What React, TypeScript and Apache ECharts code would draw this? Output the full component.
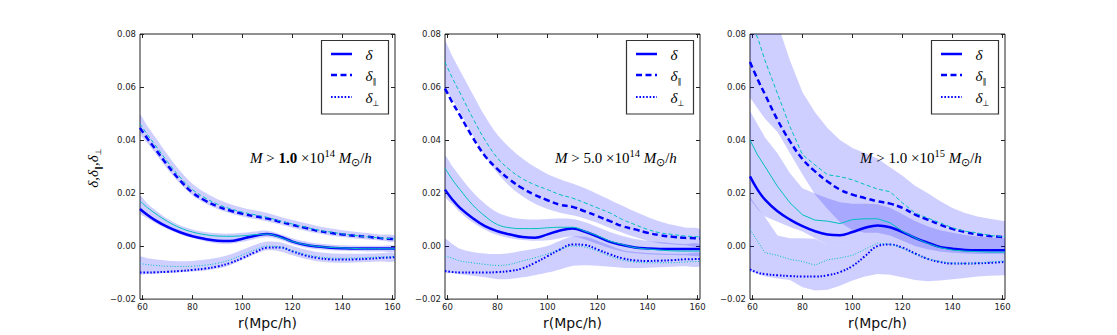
import React, { useEffect, useRef } from "react";
import * as echarts from "echarts";

// r (Mpc/h) sampling of every curve
const R = [59, 62, 65, 70, 75, 80, 85, 90, 95, 100, 105, 110, 115, 120, 125, 130, 135, 140, 145, 150, 155, 161];
const xTicks = [60, 80, 100, 120, 140, 160];
const yRange = [-0.02, 0.08];
const yStep = 0.02;

const massValues = ["1.0", "5.0", "1.0"];
const massExponents = ["14", "14", "15"];

// ---------- Panel 1: M > 1.0e14 ----------
const p1DeltaBlue = [0.0140, 0.0117, 0.0098, 0.0072, 0.0052, 0.0037, 0.0027, 0.0020, 0.0019, 0.0028, 0.0039, 0.0046, 0.0035, 0.0017, 0.0005, -0.0002, -0.0006, -0.0008, -0.0009, -0.0009, -0.0009, -0.0009];
const p1DeltaCyan = [0.0170, 0.0145, 0.0124, 0.0093, 0.0069, 0.0053, 0.0043, 0.0038, 0.0037, 0.0039, 0.0043, 0.0045, 0.0033, 0.0017, 0.0006, -0.0001, -0.0005, -0.0007, -0.0009, -0.0010, -0.0010, -0.0010];
const p1DeltaHi = [0.0188, 0.0160, 0.0137, 0.0103, 0.0079, 0.0063, 0.0053, 0.0048, 0.0047, 0.0050, 0.0055, 0.0058, 0.0046, 0.0030, 0.0018, 0.0010, 0.0006, 0.0003, 0.0002, 0.0001, 0.0001, 0.0001];
const p1DeltaLo = [0.0125, 0.0105, 0.0088, 0.0064, 0.0045, 0.0031, 0.0018, 0.0010, 0.0009, 0.0016, 0.0027, 0.0033, 0.0024, 0.0007, -0.0005, -0.0012, -0.0016, -0.0018, -0.0019, -0.0020, -0.0020, -0.0020];

const p1ParBlue = [0.0446, 0.0405, 0.0368, 0.0305, 0.0248, 0.0202, 0.0172, 0.0150, 0.0134, 0.0122, 0.0112, 0.0104, 0.0092, 0.0080, 0.0069, 0.0058, 0.0050, 0.0044, 0.0039, 0.0035, 0.0030, 0.0026];
const p1ParCyan = [0.0462, 0.0420, 0.0382, 0.0318, 0.0260, 0.0213, 0.0182, 0.0158, 0.0141, 0.0128, 0.0118, 0.0108, 0.0095, 0.0083, 0.0072, 0.0061, 0.0053, 0.0046, 0.0040, 0.0035, 0.0031, 0.0027];
const p1ParHi = [0.0494, 0.0452, 0.0412, 0.0345, 0.0284, 0.0235, 0.0202, 0.0177, 0.0159, 0.0145, 0.0135, 0.0125, 0.0111, 0.0098, 0.0087, 0.0076, 0.0067, 0.0060, 0.0054, 0.0049, 0.0044, 0.0040];
const p1ParLo = [0.0425, 0.0388, 0.0352, 0.0290, 0.0236, 0.0191, 0.0162, 0.0140, 0.0124, 0.0112, 0.0102, 0.0093, 0.0081, 0.0069, 0.0058, 0.0048, 0.0040, 0.0034, 0.0029, 0.0025, 0.0021, 0.0017];

const p1PerpBlue = [-0.0100, -0.0100, -0.0099, -0.0097, -0.0094, -0.0090, -0.0085, -0.0077, -0.0064, -0.0045, -0.0023, -0.0006, -0.0005, -0.0020, -0.0035, -0.0045, -0.0050, -0.0051, -0.0050, -0.0048, -0.0045, -0.0042];
const p1PerpCyan = [-0.0066, -0.0070, -0.0073, -0.0076, -0.0077, -0.0076, -0.0072, -0.0065, -0.0052, -0.0033, -0.0014, 0.0000, -0.0004, -0.0018, -0.0031, -0.0040, -0.0045, -0.0046, -0.0045, -0.0043, -0.0041, -0.0040];
const p1PerpHi = [-0.0042, -0.0046, -0.0050, -0.0055, -0.0057, -0.0056, -0.0051, -0.0044, -0.0032, -0.0014, 0.0005, 0.0017, 0.0014, 0.0000, -0.0013, -0.0022, -0.0027, -0.0029, -0.0029, -0.0028, -0.0027, -0.0026];
const p1PerpLo = [-0.0104, -0.0105, -0.0104, -0.0102, -0.0099, -0.0096, -0.0092, -0.0085, -0.0072, -0.0052, -0.0031, -0.0016, -0.0020, -0.0035, -0.0048, -0.0057, -0.0062, -0.0063, -0.0062, -0.0060, -0.0058, -0.0056];

// ---------- Panel 2: M > 5.0e14 ----------
const p2DeltaBlue = [0.0213, 0.0175, 0.0144, 0.0106, 0.0075, 0.0056, 0.0044, 0.0034, 0.0031, 0.0044, 0.0059, 0.0066, 0.0054, 0.0036, 0.0016, 0.0004, -0.0005, -0.0009, -0.0011, -0.0011, -0.0011, -0.0011];
const p2DeltaCyan = [0.0294, 0.0250, 0.0213, 0.0156, 0.0113, 0.0081, 0.0069, 0.0066, 0.0066, 0.0069, 0.0071, 0.0071, 0.0056, 0.0039, 0.0019, 0.0006, -0.0006, -0.0011, -0.0015, -0.0018, -0.0019, -0.0019];
const p2DeltaHi = [0.0338, 0.0300, 0.0262, 0.0205, 0.0160, 0.0127, 0.0110, 0.0102, 0.0100, 0.0102, 0.0104, 0.0102, 0.0090, 0.0072, 0.0053, 0.0038, 0.0027, 0.0020, 0.0015, 0.0011, 0.0008, 0.0006];
const p2DeltaLo = [0.0190, 0.0158, 0.0128, 0.0090, 0.0062, 0.0042, 0.0030, 0.0023, 0.0020, 0.0022, 0.0030, 0.0036, 0.0025, 0.0008, -0.0008, -0.0020, -0.0027, -0.0031, -0.0033, -0.0034, -0.0035, -0.0035];

const p2ParBlue = [0.0594, 0.0541, 0.0493, 0.0411, 0.0340, 0.0290, 0.0250, 0.0218, 0.0193, 0.0173, 0.0156, 0.0148, 0.0131, 0.0113, 0.0094, 0.0075, 0.0063, 0.0050, 0.0041, 0.0035, 0.0031, 0.0029];
const p2ParCyan = [0.0694, 0.0633, 0.0578, 0.0485, 0.0400, 0.0332, 0.0287, 0.0254, 0.0231, 0.0213, 0.0194, 0.0181, 0.0163, 0.0144, 0.0125, 0.0100, 0.0081, 0.0063, 0.0050, 0.0044, 0.0038, 0.0035];
const p2ParHi = [0.0769, 0.0715, 0.0662, 0.0575, 0.0490, 0.0420, 0.0370, 0.0330, 0.0298, 0.0272, 0.0252, 0.0236, 0.0218, 0.0196, 0.0174, 0.0152, 0.0130, 0.0110, 0.0093, 0.0080, 0.0070, 0.0062];
const p2ParLo = [0.0600, 0.0552, 0.0505, 0.0420, 0.0340, 0.0275, 0.0225, 0.0188, 0.0160, 0.0140, 0.0126, 0.0116, 0.0103, 0.0087, 0.0068, 0.0050, 0.0034, 0.0020, 0.0011, 0.0006, 0.0003, 0.0001];

const p2PerpBlue = [-0.0094, -0.0098, -0.0100, -0.0100, -0.0100, -0.0098, -0.0094, -0.0084, -0.0063, -0.0038, -0.0013, 0.0006, 0.0004, -0.0013, -0.0031, -0.0046, -0.0054, -0.0056, -0.0055, -0.0053, -0.0050, -0.0049];
const p2PerpCyan = [-0.0038, -0.0046, -0.0056, -0.0063, -0.0069, -0.0073, -0.0069, -0.0056, -0.0044, -0.0029, -0.0013, 0.0000, -0.0004, -0.0019, -0.0038, -0.0053, -0.0060, -0.0063, -0.0063, -0.0063, -0.0060, -0.0058];
const p2PerpHi = [0.0025, 0.0008, -0.0010, -0.0022, -0.0028, -0.0030, -0.0026, -0.0018, -0.0010, 0.0000, 0.0020, 0.0036, 0.0035, 0.0020, 0.0002, -0.0015, -0.0022, -0.0026, -0.0028, -0.0029, -0.0029, -0.0028];
const p2PerpLo = [-0.0098, -0.0102, -0.0106, -0.0112, -0.0118, -0.0125, -0.0124, -0.0118, -0.0110, -0.0100, -0.0088, -0.0075, -0.0072, -0.0074, -0.0078, -0.0082, -0.0083, -0.0082, -0.0080, -0.0078, -0.0076, -0.0075];

// ---------- Panel 3: M > 1.0e15 ----------
const p3DeltaBlue = [0.0263, 0.0213, 0.0175, 0.0131, 0.0100, 0.0075, 0.0056, 0.0044, 0.0041, 0.0053, 0.0069, 0.0078, 0.0071, 0.0053, 0.0031, 0.0013, -0.0003, -0.0010, -0.0015, -0.0016, -0.0016, -0.0016];
const p3DeltaCyan = [0.0400, 0.0344, 0.0300, 0.0225, 0.0163, 0.0118, 0.0098, 0.0094, 0.0085, 0.0100, 0.0103, 0.0103, 0.0088, 0.0056, 0.0031, 0.0010, -0.0006, -0.0015, -0.0019, -0.0021, -0.0023, -0.0023];
const p3DeltaHi = [0.0510, 0.0460, 0.0410, 0.0350, 0.0275, 0.0218, 0.0198, 0.0180, 0.0165, 0.0160, 0.0160, 0.0158, 0.0145, 0.0120, 0.0095, 0.0075, 0.0060, 0.0050, 0.0042, 0.0036, 0.0032, 0.0030];
const p3DeltaLo = [0.0178, 0.0140, 0.0112, 0.0092, 0.0072, 0.0055, 0.0030, 0.0005, 0.0000, 0.0005, 0.0015, 0.0020, 0.0010, -0.0005, -0.0020, -0.0030, -0.0035, -0.0040, -0.0042, -0.0043, -0.0044, -0.0045];

const p3ParBlue = [0.0694, 0.0630, 0.0572, 0.0476, 0.0395, 0.0328, 0.0282, 0.0244, 0.0213, 0.0194, 0.0181, 0.0169, 0.0160, 0.0144, 0.0119, 0.0100, 0.0081, 0.0065, 0.0053, 0.0044, 0.0038, 0.0034];
const p3ParCyan = [0.0840, 0.0788, 0.0700, 0.0575, 0.0450, 0.0345, 0.0306, 0.0269, 0.0262, 0.0250, 0.0232, 0.0215, 0.0205, 0.0163, 0.0125, 0.0106, 0.0088, 0.0069, 0.0056, 0.0050, 0.0040, 0.0035];
const p3ParHi = [0.0960, 0.0940, 0.0910, 0.0840, 0.0700, 0.0580, 0.0505, 0.0445, 0.0400, 0.0370, 0.0350, 0.0330, 0.0297, 0.0265, 0.0228, 0.0200, 0.0170, 0.0144, 0.0125, 0.0112, 0.0103, 0.0094];
const p3ParLo = [0.0560, 0.0520, 0.0480, 0.0430, 0.0350, 0.0270, 0.0195, 0.0140, 0.0090, 0.0060, 0.0050, 0.0050, 0.0040, 0.0020, 0.0000, -0.0012, -0.0020, -0.0025, -0.0028, -0.0030, -0.0030, -0.0030];

const p3PerpBlue = [-0.0088, -0.0100, -0.0106, -0.0110, -0.0113, -0.0115, -0.0115, -0.0110, -0.0098, -0.0075, -0.0038, 0.0000, 0.0006, -0.0006, -0.0028, -0.0048, -0.0060, -0.0066, -0.0066, -0.0065, -0.0063, -0.0060];
const p3PerpCyan = [0.0063, 0.0019, -0.0025, -0.0035, -0.0050, -0.0058, -0.0072, -0.0052, -0.0045, -0.0035, -0.0012, 0.0011, 0.0007, -0.0008, -0.0030, -0.0048, -0.0058, -0.0065, -0.0066, -0.0064, -0.0060, -0.0056];
const p3PerpHi = [0.0185, 0.0145, 0.0110, 0.0040, 0.0030, 0.0030, 0.0028, 0.0005, 0.0000, 0.0005, 0.0015, 0.0020, 0.0010, -0.0005, -0.0020, -0.0030, -0.0035, -0.0040, -0.0042, -0.0043, -0.0044, -0.0045];
const p3PerpLo = [-0.0095, -0.0105, -0.0115, -0.0122, -0.0128, -0.0155, -0.0168, -0.0165, -0.0150, -0.0130, -0.0115, -0.0105, -0.0108, -0.0118, -0.0128, -0.0133, -0.0130, -0.0125, -0.0120, -0.0115, -0.0112, -0.0110];

type Comp = { blue: number[]; cyan: number[]; lo: number[]; hi: number[] };
type Panel = { delta: Comp; par: Comp; perp: Comp; jagged: boolean; boldMass: boolean };

const PANELS: Panel[] = [
  {
    delta: { blue: p1DeltaBlue, cyan: p1DeltaCyan, lo: p1DeltaLo, hi: p1DeltaHi },
    par: { blue: p1ParBlue, cyan: p1ParCyan, lo: p1ParLo, hi: p1ParHi },
    perp: { blue: p1PerpBlue, cyan: p1PerpCyan, lo: p1PerpLo, hi: p1PerpHi },
    jagged: false,
    boldMass: true,
  },
  {
    delta: { blue: p2DeltaBlue, cyan: p2DeltaCyan, lo: p2DeltaLo, hi: p2DeltaHi },
    par: { blue: p2ParBlue, cyan: p2ParCyan, lo: p2ParLo, hi: p2ParHi },
    perp: { blue: p2PerpBlue, cyan: p2PerpCyan, lo: p2PerpLo, hi: p2PerpHi },
    jagged: false,
    boldMass: false,
  },
  {
    delta: { blue: p3DeltaBlue, cyan: p3DeltaCyan, lo: p3DeltaLo, hi: p3DeltaHi },
    par: { blue: p3ParBlue, cyan: p3ParCyan, lo: p3ParLo, hi: p3ParHi },
    perp: { blue: p3PerpBlue, cyan: p3PerpCyan, lo: p3PerpLo, hi: p3PerpHi },
    jagged: true,
    boldMass: false,
  },
];

const GRID_LEFT = [140, 445, 750];
const GRID_TOP = 34;
const GRID_W = 255;
const GRID_H = 267;

const BLUE = "#0000ff";
const CYAN = "#00bfbf";
const BAND = "rgba(0,0,255,0.19)";
const FRAME = "#222";

const blueStyle: Record<string, any> = {
  delta: { color: BLUE, width: 2.5, type: "solid" },
  par: { color: BLUE, width: 2.5, type: [6, 3.5] },
  perp: { color: BLUE, width: 2, type: [1.6, 1.8] },
};
const cyanStyle: Record<string, any> = {
  delta: { color: CYAN, width: 1, type: "solid" },
  par: { color: CYAN, width: 1, type: [4, 2.5] },
  perp: { color: CYAN, width: 1, type: [1, 1.7] },
};

const pts = (ys: number[]) => R.map((x, j) => [x, ys[j]]);

function buildSeries() {
  const bands: any[] = [];
  const blues: any[] = [];
  const cyans: any[] = [];
  PANELS.forEach((p, i) => {
    const ax = { xAxisIndex: 2 * i, yAxisIndex: 2 * i };
    (["delta", "par", "perp"] as const).forEach((k) => {
      const c = p[k];
      const sm = p.jagged ? 0 : 0.35;
      bands.push({
        type: "custom", ...ax, silent: true, z: 1,
        data: [[R[0], c.lo[0]]],
        renderItem: (params: any, api: any) => {
          const up = R.map((x, j) => api.coord([x, c.hi[j]]));
          const dn = R.map((x, j) => api.coord([x, c.lo[j]])).reverse();
          const cs = params.coordSys;
          return {
            type: "polygon",
            shape: { points: up.concat(dn), smooth: sm },
            style: { fill: BAND, stroke: null },
            clipPath: { type: "rect", shape: { x: cs.x, y: cs.y, width: cs.width, height: cs.height } },
          };
        },
      });
      blues.push({
        type: "line", ...ax, data: pts(c.blue), symbol: "none", smooth: 0.4, silent: true,
        lineStyle: blueStyle[k], z: 3,
      });
      cyans.push({
        type: "line", ...ax, data: pts(c.cyan), symbol: "none", smooth: p.jagged ? false : 0.4, silent: true,
        lineStyle: cyanStyle[k], z: 4,
      });
    });
  });
  return [...bands, ...blues, ...cyans];
}

const fmtY = (v: number) => {
  const s = Math.abs(v).toFixed(2);
  return v < -1e-9 ? "\u2212" + s : s;
};

function buildAxes() {
  const xAxis: any[] = [];
  const yAxis: any[] = [];
  PANELS.forEach((_, i) => {
    const tick = { show: true, inside: true, length: 4, lineStyle: { color: FRAME, width: 1 } };
    const line = { show: false, onZero: false };
    xAxis.push({
      type: "value", gridIndex: i, min: 59, max: 161, position: "bottom",
      splitLine: { show: false }, axisLine: line,
      axisTick: { ...tick, customValues: xTicks },
      axisLabel: { customValues: xTicks, fontSize: 8.5, color: FRAME, margin: 3, fontFamily: "DejaVu Sans" },
      name: "r(Mpc/h)", nameLocation: "middle", nameGap: 13,
      nameTextStyle: { fontSize: 14, fontFamily: "DejaVu Sans", color: "#111" },
    });
    xAxis.push({
      type: "value", gridIndex: i, min: 59, max: 161, position: "top",
      splitLine: { show: false }, axisLine: line,
      axisTick: { ...tick, customValues: xTicks },
      axisLabel: { show: false },
    });
    yAxis.push({
      type: "value", gridIndex: i, min: yRange[0], max: yRange[1], interval: yStep, position: "left",
      splitLine: { show: false }, axisLine: line,
      axisTick: tick,
      axisLabel: { formatter: fmtY, fontSize: 8.5, color: FRAME, margin: 4, fontFamily: "DejaVu Sans" },
    });
    yAxis.push({
      type: "value", gridIndex: i, min: yRange[0], max: yRange[1], interval: yStep, position: "right",
      splitLine: { show: false }, axisLine: line,
      axisTick: tick, axisLabel: { show: false },
    });
  });
  return { xAxis, yAxis };
}

const SERIF = "Liberation Serif";
const mathRich = {
  it: { fontFamily: SERIF, fontStyle: "italic", fontSize: 15, color: "#111", lineHeight: 20 },
  rm: { fontFamily: SERIF, fontSize: 15, color: "#111", lineHeight: 20 },
  bf: { fontFamily: SERIF, fontSize: 15, fontWeight: "bold", color: "#111", lineHeight: 20 },
  sup: { fontFamily: SERIF, fontSize: 10.5, color: "#111", verticalAlign: "top", lineHeight: 10 },
  sub: { fontFamily: SERIF, fontSize: 10.5, color: "#111", verticalAlign: "bottom", lineHeight: 10 },
};

const legendRich = {
  d: { fontFamily: SERIF, fontStyle: "italic", fontSize: 15, color: "#111", lineHeight: 18 },
  s: { fontFamily: "DejaVu Sans", fontSize: 8, color: "#111", verticalAlign: "bottom", lineHeight: 9 },
};

function buildGraphics() {
  const g: any[] = [];
  PANELS.forEach((p, i) => {
    const L = GRID_LEFT[i];
    const massStyle = p.boldMass ? "bf" : "rm";
    g.push({
      type: "text", x: L + 110, y: 158, silent: true, z: 10,
      style: {
        text: `{it|M}{rm| > }{${massStyle}|${massValues[i]}}{rm| ×10}{sup|${massExponents[i]}}{it| M}{sub|\u2299}{rm|/}{it|h}`,
        rich: mathRich, align: "left", verticalAlign: "middle",
      },
    });
    const bx = L + 181.5;
    const by = 40.5;
    g.push({
      type: "rect", silent: true, z: 10, shape: { x: bx, y: by, width: 67, height: 73.5 },
      style: { fill: "#fff", stroke: "#333", lineWidth: 1.2 },
    });
    const rows = [
      { dy: 13.5, k: "delta", label: "{d|δ}" },
      { dy: 34.5, k: "par", label: "{d|δ}{s|\u2225}" },
      { dy: 56.5, k: "perp", label: "{d|δ}{s|\u22A5}" },
    ];
    rows.forEach((r) => {
      const st = blueStyle[r.k];
      g.push({
        type: "line", silent: true, z: 11,
        shape: { x1: bx + 9.5, y1: by + r.dy, x2: bx + 30.5, y2: by + r.dy },
        style: { stroke: st.color, lineWidth: st.width, lineDash: Array.isArray(st.type) ? st.type : null },
      });
      g.push({
        type: "text", silent: true, z: 11, x: bx + 44, y: by + r.dy + 1,
        style: { text: r.label, rich: legendRich, align: "left", verticalAlign: "middle" },
      });
    });
  });
  g.push({
    type: "text", silent: true, x: 93, y: 168, rotation: Math.PI / 2,
    style: {
      text: "{d|δ}{d|,}{d|δ}{s|\u2225}{d|,}{d|δ}{s|\u22A5}",
      rich: legendRich, align: "center", verticalAlign: "middle",
    },
  });
  return g;
}

export default function App() {
  const ref = useRef<HTMLDivElement>(null);
  useEffect(() => {
    if (!ref.current) return;
    const chart = echarts.init(ref.current, null, { renderer: "svg" });
    const { xAxis, yAxis } = buildAxes();
    chart.setOption({
      animation: false,
      backgroundColor: "#fff",
      grid: GRID_LEFT.map((l) => ({
        left: l, top: GRID_TOP, width: GRID_W, height: GRID_H,
        show: true, borderColor: FRAME, borderWidth: 1, backgroundColor: "transparent",
      })),
      xAxis,
      yAxis,
      series: buildSeries(),
      graphic: buildGraphics(),
    });
    return () => chart.dispose();
  }, []);
  return (
    <div
      ref={ref}
      style={{ position: "fixed", left: 0, top: 0, width: 1117, height: 335, background: "#fff" }}
    />
  );
}
